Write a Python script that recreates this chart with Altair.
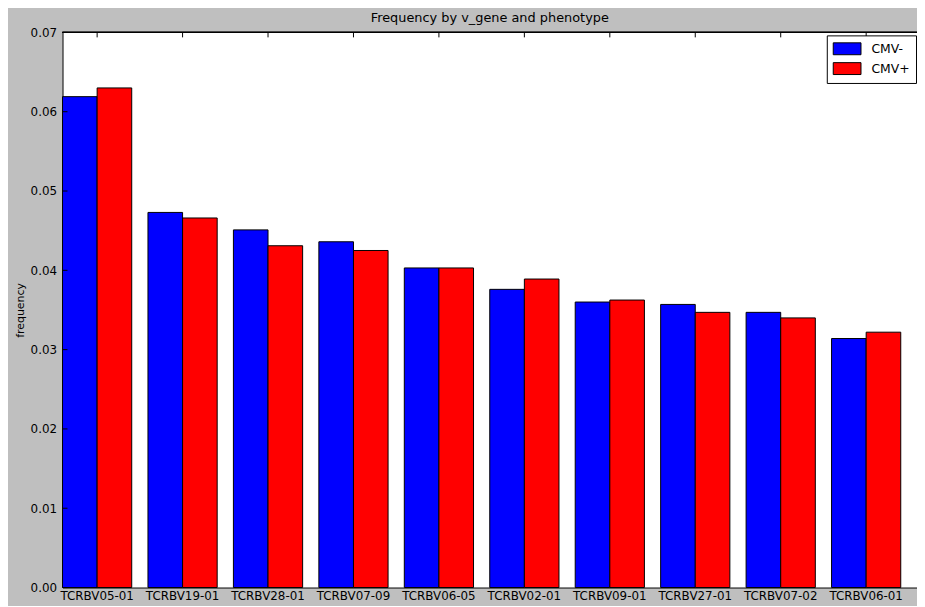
import altair as alt
import pandas as pd

genes = ["TCRBV05-01", "TCRBV19-01", "TCRBV28-01", "TCRBV07-09", "TCRBV06-05",
         "TCRBV02-01", "TCRBV09-01", "TCRBV27-01", "TCRBV07-02", "TCRBV06-01"]
cmv_neg = [0.0619, 0.0473, 0.0451, 0.0436, 0.0403, 0.0376, 0.0360, 0.0357, 0.0347, 0.0314]
cmv_pos = [0.0630, 0.0466, 0.0431, 0.0425, 0.0403, 0.0389, 0.03625, 0.0347, 0.0340, 0.0322]
phenotypes = ["CMV-", "CMV+"]
colors = ["#0000ff", "#ff0000"]
y_ticks = [0.0, 0.01, 0.02, 0.03, 0.04, 0.05, 0.06, 0.07]

rows = []
for g, a, b in zip(genes, cmv_neg, cmv_pos):
    rows.append({"v_gene": g, "phenotype": phenotypes[0], "frequency": a})
    rows.append({"v_gene": g, "phenotype": phenotypes[1], "frequency": b})
df = pd.DataFrame(rows)
gene_df = pd.DataFrame({"v_gene": genes})
tick_df = pd.DataFrame({"frequency": y_ticks})

FONT = "DejaVu Sans"
xscale = alt.Scale(domain=genes, paddingInner=0.19, paddingOuter=0.095, align=0)
yscale = alt.Scale(domain=[0, 0.07], nice=False, zero=True)

xaxis = alt.Axis(title=None, labelAngle=0, ticks=False, tickSize=0, labelPadding=3,
                 labelFont=FONT, labelFontSize=12, labelColor="black",
                 domainColor="black", domainWidth=1)
yaxis = alt.Axis(title="frequency", values=y_ticks, format=".2f", grid=False,
                 ticks=False, tickSize=0, labelPadding=6, labelFont=FONT,
                 labelFontSize=12, labelColor="black", titleFont=FONT,
                 titleFontSize=11, titleFontWeight="normal", titleColor="black",
                 titlePadding=5, domainColor="black", domainWidth=1)

bars = alt.Chart(df).mark_bar(stroke="black", strokeWidth=1).encode(
    x=alt.X("v_gene:N", sort=genes, scale=xscale, axis=xaxis),
    xOffset=alt.XOffset("phenotype:N", sort=phenotypes,
                        scale=alt.Scale(domain=phenotypes, paddingInner=0, paddingOuter=0)),
    y=alt.Y("frequency:Q", scale=yscale, axis=yaxis),
    color=alt.Color("phenotype:N", sort=phenotypes,
                    scale=alt.Scale(domain=phenotypes, range=colors),
                    legend=alt.Legend(title=None, orient="none", legendX=771, legendY=3,
                                      fillColor="white", strokeColor="black", padding=6,
                                      symbolType="M-1,-0.857H3V0.857H-1Z", symbolSize=196,
                                      symbolStrokeColor="black", symbolStrokeWidth=1,
                                      symbolOpacity=1,
                                      labelFont=FONT, labelFontSize=12.5, labelOffset=24,
                                      labelColor="black", rowPadding=3)),
)

top_ticks = alt.Chart(gene_df).mark_rule(color="black", strokeWidth=1).encode(
    x=alt.X("v_gene:N", sort=genes, scale=xscale, axis=xaxis),
    y=alt.value(0), y2=alt.value(5),
)

left_ticks = alt.Chart(tick_df).mark_rule(color="black", strokeWidth=1).encode(
    y=alt.Y("frequency:Q", scale=yscale, axis=yaxis),
    x=alt.value(0), x2=alt.value(5),
)

top_spine = alt.Chart(gene_df).mark_rule(color="black", strokeWidth=1).encode(
    x=alt.value(0), x2=alt.value(862), y=alt.value(0),
)

chart = alt.layer(bars, top_ticks, left_ticks, top_spine).properties(
    width=862, height=560,
    title=alt.TitleParams("Frequency by v_gene and phenotype", font=FONT, fontSize=13,
                          fontWeight="normal", color="black", anchor="middle", offset=2),
    autosize=alt.AutoSizeParams(type="none"),
    padding={"left": 55, "top": 22, "right": 0, "bottom": 16},
    background="#bfbfbf",
).configure_view(fill="white", stroke="transparent")

chart.save("out.html", embed_options={"renderer": "svg", "actions": False})
